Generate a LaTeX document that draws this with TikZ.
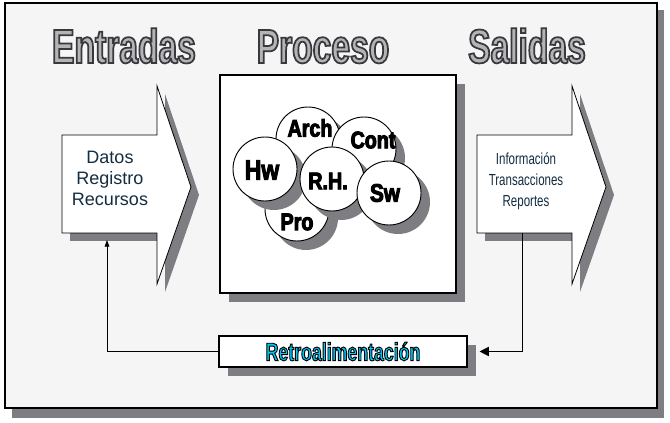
\documentclass[tikz,border=0pt]{standalone}
\usepackage{fontspec}
\setmainfont{Liberation Sans}
\newfontfamily\titlefont{Liberation Sans}[FakeStretch=0.7]
\newfontfamily\narrowfont{Liberation Sans}[FakeStretch=0.72]
\newfontfamily\ballfont{Liberation Sans}[FakeStretch=0.82]
\usetikzlibrary{arrows.meta,shadows,positioning}
\definecolor{shadowgray}{RGB}{125,125,130}
\definecolor{paper}{RGB}{245,245,246}
\definecolor{inktext}{RGB}{20,45,65}
\definecolor{retrocyan}{RGB}{0,200,250}
\definecolor{titlegray}{RGB}{180,180,183}
\newcommand{\strokedtext}[2]{\special{pdf:literal direct 2 Tr #1}#2\special{pdf:literal direct 0 Tr}}

\begin{document}
\begin{tikzpicture}[x=0.75pt,y=-0.75pt,
   shadowed/.style={drop shadow={shadow xshift=6.75pt,shadow yshift=-6.75pt,opacity=1,fill=shadowgray}},
   headline/.style={anchor=base,font=\titlefont\bfseries\fontsize{36}{36}\selectfont,text=titlegray},
   ball/.style={circle,draw,line width=0.7pt,fill=white,inner sep=0pt,minimum size=48pt,shadowed},
   iotext/.style={align=center,font=\fontsize{13.5}{15.75}\selectfont,text=inktext}]

\fill[white] (0,0) rectangle (670,423);
\fill[shadowgray] (12,10) rectangle (664,418);
\filldraw[fill=paper,line width=1.2pt] (5,3) rectangle (657,408);

\node[headline] (entradas) at (124,63) {\strokedtext{1.3 w 0.22 0.22 0.24 RG}{Entradas}};
\node[headline] (proceso) at (323,63) {\strokedtext{1.3 w 0.22 0.22 0.24 RG}{Proceso}};
\node[headline] (salidas) at (527,63) {\strokedtext{1.3 w 0.22 0.22 0.24 RG}{Salidas}};

\foreach \x/\n in {62/ent,477/sal}{
  \fill[shadowgray,shift={(8,8)}] (\x,135) -- ++(95,0) -- ++(0,-49) -- ++(34,101) -- ++(-34,97) -- ++(0,-51) -- ++(-95,0) -- cycle;
  \filldraw[fill=white,line width=0.6pt] (\x,135) -- ++(95,0) -- ++(0,-49) -- ++(34,101) -- ++(-34,97) -- ++(0,-51) -- ++(-50,0) coordinate(\n F) -- ++(-45,0) -- cycle;
}
\node[iotext] (datos) at (110,178) {Datos\\Registro\\Recursos};
\node[iotext,font=\narrowfont\fontsize{12}{15.75}\selectfont] (info) at (526,181) {Información\\Transacciones\\Reportes};

\node[draw,line width=0.9pt,fill=white,minimum width=177pt,minimum height=163.5pt,shadowed] (proc) at (338,184) {};
\foreach \n/\cx/\cy/\tx/\ty/\s/\t in {pro/297/209/297/222/18/Pro,arch/308/139/310/128/18/Arch,cont/364/149/373/140/18/Cont,
    hw/265/169/262/170/21/Hw,rh/332/179/328/181/18/R.H.,sw/389/193/385/193/19/Sw}{
  \node[ball] (\n) at (\cx,\cy) {};
  \node[font=\ballfont\bfseries\fontsize{\s}{\s}\selectfont] (\n lbl) at (\tx,\ty) {\strokedtext{0.7 w 0 0 0 RG}{\t}};
}

\node[draw,line width=0.8pt,fill=white,minimum width=186pt,minimum height=23.25pt,inner sep=0pt,shadowed,
  font=\titlefont\bfseries\fontsize{19}{19}\selectfont,text=retrocyan] (retro) at (343,351.5) {\strokedtext{0.7 w 0 0 0 RG}{Retroalimentación}};

\draw[line width=0.6pt,-{Triangle[length=5pt,width=3.5pt]},shorten >=5.25pt] (retro.west) -| (entF);
\draw[line width=0.6pt,-{Triangle[length=7pt,width=7pt]},shorten >=9pt] (salF) |- (retro.east);
\end{tikzpicture}
\end{document}
